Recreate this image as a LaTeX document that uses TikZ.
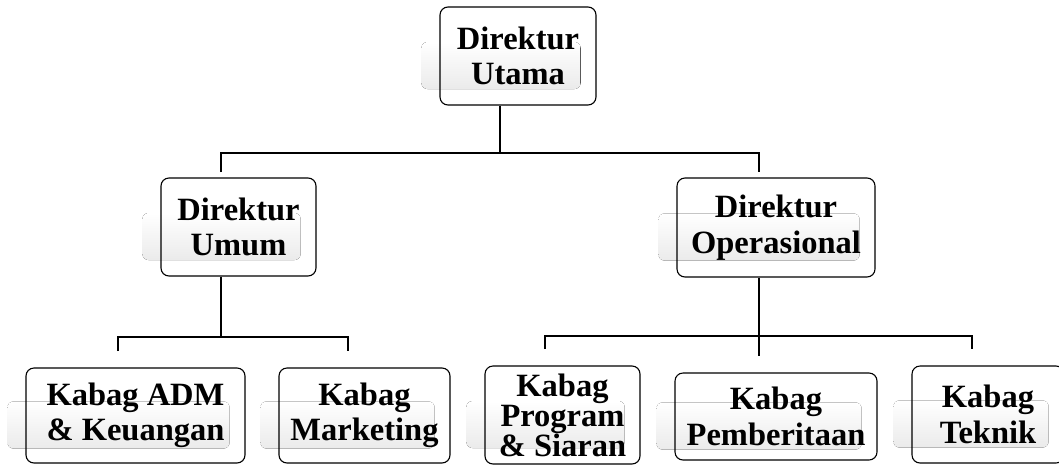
\documentclass[tikz,border=0pt]{standalone}
\usepackage{fontspec}
\setmainfont{Liberation Serif}
\usepackage{tikz}
\usetikzlibrary{positioning,calc,backgrounds}
\usepackage{xcolor}

\begin{document}
\begin{tikzpicture}[x=1pt,y=-1pt]
  % Styles local to this figure.
  \tikzset{
    unit/.style={draw,rounded corners=8pt,line width=1.1pt,
      inner sep=0pt,align=center,font=\fontsize{32.5}{35.5}\selectfont\bfseries},
    bus/.style={line width=1.1pt},
    shade/.style={rounded corners=6pt,top color=white,bottom color=gray!16,draw=none}
  }
  \newcommand{\backshade}[1]{%
    \fill[shade] ($(#1.west|-#1.center)+(-18,-14)$) rectangle ($(#1.east|-#1.center)+(-16,33)$);}

  \useasboundingbox (0,0) rectangle (1059,464);

  % Boxes of the three levels.
  \node[unit,minimum width=156pt,minimum height=98pt] (dirut) at (518,56) {Direktur\\Utama};
  \node[unit,minimum width=155pt,minimum height=98pt] (dirum) at (238.5,227) {Direktur\\Umum};
  \node[unit,minimum width=198pt,minimum height=99pt] (dirop) at (776,227.5) {Direktur\\Operasional};
  \node[unit,minimum width=219pt,minimum height=95pt] (adm) at (135.5,415.5) {Kabag ADM\\\& Keuangan};
  \node[unit,minimum width=171pt,minimum height=95pt] (mkt) at (364.5,415.5) {Kabag\\Marketing};
  \node[unit,minimum width=155pt,minimum height=98pt,
    font=\fontsize{32.5}{30}\selectfont\bfseries] (prog) at (562.5,415) {Kabag\\Program\\\& Siaran};
  \node[unit,minimum width=202pt,minimum height=87pt] (berita) at (776,416.5) {Kabag\\Pemberitaan};
  \node[unit,minimum width=152pt,minimum height=97pt] (teknik) at (988,414.5) {Kabag\\Teknik};

  % Faint shades behind the boxes.
  \begin{pgfonlayer}{background}
    \foreach \n in {dirut,dirum,dirop,adm,mkt,prog,berita,teknik} {\backshade{\n}}
  \end{pgfonlayer}

  % Bus points.
  \coordinate (b0) at (500,153);
  \coordinate (la) at (221,172);
  \coordinate (ra) at (759,172);
  \coordinate (b1) at (221,337);
  \coordinate (l1) at (118,351);
  \coordinate (r1) at (348,351);
  \coordinate (b2) at (759,356);
  \coordinate (l2) at (545,349);
  \coordinate (r2) at (972,349);

  % Connectors.
  \draw[bus] (dirut.south -| b0) -- (b0);
  \draw[bus] (la) -- (la |- b0) -- (ra |- b0) -- (ra);
  \draw[bus] (dirum.south -| b1) -- (b1);
  \draw[bus] (l1) -- (l1 |- b1) -- (r1 |- b1) -- (r1);
  \draw[bus] (dirop.south -| b2) -- (b2);
  \draw[bus] (l2) -- (l2 |- 0,336) -- (r2 |- 0,336) -- (r2);
\end{tikzpicture}
\end{document}
